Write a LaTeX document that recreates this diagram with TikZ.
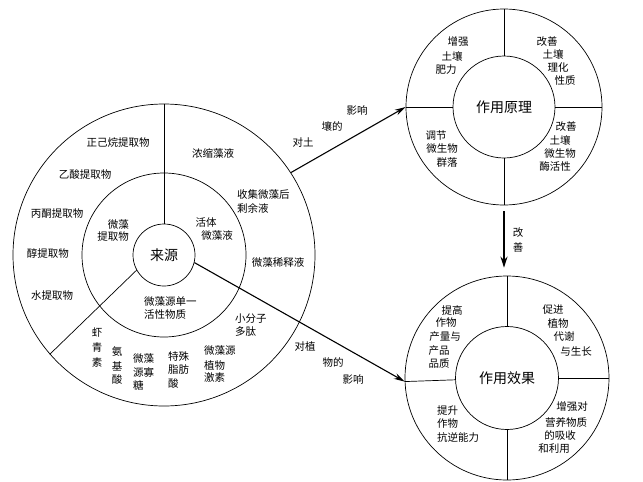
\documentclass[tikz,border=0pt]{standalone}
\usepackage{fontspec}
\newfontfamily\cjk{Noto Sans CJK SC}
\usetikzlibrary{arrows.meta,calc}
\begin{document}
\begin{tikzpicture}[x=1pt,y=-1pt,
  ring/.style={circle,draw,line width=0.7pt,inner sep=0pt},
  lbl/.style={font=\cjk\fontsize{10.5}{12}\selectfont,inner sep=0pt},
  big/.style={font=\cjk\fontsize{14}{16}\selectfont,inner sep=0pt},
  divider/.style={line width=0.7pt},
  flow/.style={line width=1.1pt,-{Stealth[length=11pt,width=6pt]}},
  bigflow/.style={line width=1.8pt,-{Stealth[length=11pt,width=7pt]}}]
\fill[white] (0,0) rectangle (643,482);
\useasboundingbox (0,0) rectangle (643,482);

% ---- left circle: sources
\node[ring,minimum size=302pt] (srcO) at (164,255) {};
\node[ring,minimum size=164pt] (srcM) at (164,255) {};
\node[ring,minimum size=62pt,big] (src) at (164,255) {来源};
\draw[divider] (srcO.90) -- (src.90);
\draw[divider] (src.209) -- (srcO.221.5);

% ---- top right: principle
\node[ring,minimum size=196pt] (prO) at (504,107) {};
\node[ring,minimum size=102pt,big] (pr) at (504,107) {作用原理};
\draw[divider] (pr.north) -- (prO.north);
\draw[divider] (pr.south) -- (prO.south);
\draw[divider] (pr.west) -- (prO.west);
\draw[divider] (pr.east) -- (prO.east);

% ---- bottom right: effect
\node[ring,minimum size=204pt] (effO) at (507,378) {};
\node[ring,minimum size=103pt,big] (eff) at (507,378) {作用效果};
\draw[divider] (eff.north) -- (effO.north);
\draw[divider] (eff.south) -- (effO.south);
\draw[divider] (eff.182) -- (effO.182);
\draw[divider] (eff.east) -- (effO.east);

% ---- connectors
\draw[flow] (srcO.33.7) -- (prO.180);
\draw[flow] (src.-14.5) -- (effO.182);
\draw[bigflow,shorten <=6pt,shorten >=8pt] (prO.south) -- (prO.south |- effO.north);

% ---- arrow labels
\node[lbl] (u1) at (303,143) {对土};
\node[lbl] (u2) at (332,126) {壤的};
\node[lbl] (u3) at (357,110) {影响};
\node[lbl] (l1) at (305,346) {对植};
\node[lbl] (l2) at (333,362) {物的};
\node[lbl] (l3) at (353,379) {影响};
\node[lbl] (g1) at (518,233) {改};
\node[lbl] (g2) at (518,247) {善};

% ---- outer ring, left part
\node[lbl] (a1) at (118,143) {正己烷提取物};
\node[lbl] (a2) at (85,175) {乙酸提取物};
\node[lbl] (a3) at (57,214) {丙酮提取物};
\node[lbl] (a4) at (48,253) {醇提取物};
\node[lbl] (a5) at (52,296) {水提取物};
% outer ring, right part
\node[lbl] (b1) at (213,153) {浓缩藻液};
\node[lbl,anchor=west] (b2) at (237,195) {收集微藻后};
\node[lbl,anchor=west] (b3) at (237,208) {剩余液};
\node[lbl] (b4) at (278,263) {微藻稀释液};
\node[lbl,anchor=west] (b5) at (235,319) {小分子};
\node[lbl,anchor=west] (b6) at (235,332) {多肽};
% outer ring, bottom part
\node[lbl] (c1) at (97,333) {虾};
\node[lbl] (c2) at (97,348) {青};
\node[lbl] (c3) at (97,362) {素};
\node[lbl] (d1) at (117,352) {氨};
\node[lbl] (d2) at (117,366) {基};
\node[lbl] (d3) at (117,380) {酸};
\node[lbl,anchor=west] (e1) at (133,359) {微藻};
\node[lbl,anchor=west] (e2) at (133,372) {源寡};
\node[lbl,anchor=west] (e3) at (133,385) {糖};
\node[lbl,anchor=west] (f1) at (168,357) {特殊};
\node[lbl,anchor=west] (f2) at (168,370) {脂肪};
\node[lbl,anchor=west] (f3) at (168,384) {酸};
\node[lbl,anchor=west] (h1) at (204,351) {微藻源};
\node[lbl,anchor=west] (h2) at (204,365) {植物};
\node[lbl,anchor=west] (h3) at (204,378) {激素};
% middle ring
\node[lbl,anchor=east] (m1) at (129,225) {微藻};
\node[lbl,anchor=east] (m2) at (129,237) {提取物};
\node[lbl] (m3) at (206,223) {活体};
\node[lbl] (m4) at (217,236) {微藻液};
\node[lbl,anchor=west] (m5) at (144,302) {微藻源单一};
\node[lbl,anchor=west] (m6) at (144,315) {活性物质};

% ---- principle circle texts
\node[lbl] (p1) at (458,42) {增强};
\node[lbl] (p2) at (452,56) {土壤};
\node[lbl] (p3) at (446,70) {肥力};
\node[lbl] (q1) at (547,42) {改善};
\node[lbl] (q2) at (553,54) {土壤};
\node[lbl] (q3) at (558,68) {理化};
\node[lbl] (q4) at (565,81) {性质};
\node[lbl] (r1) at (566,127) {改善};
\node[lbl] (r2) at (560,140) {土壤};
\node[lbl] (r3) at (560,154) {微生物};
\node[lbl] (r4) at (555,167) {酶活性};
\node[lbl] (s1) at (436,136) {调节};
\node[lbl] (s2) at (442,149) {微生物};
\node[lbl] (s3) at (447,163) {群落};

% ---- effect circle texts
\node[lbl] (v1) at (452,310) {提高};
\node[lbl] (v2) at (446,323) {作物};
\node[lbl] (v3) at (445,337) {产量与};
\node[lbl] (v4) at (439,351) {产品};
\node[lbl] (v5) at (439,364) {品质};
\node[lbl] (w1) at (553,310) {促进};
\node[lbl] (w2) at (558,323) {植物};
\node[lbl] (w3) at (564,337) {代谢};
\node[lbl] (w4) at (576,351) {与生长};
\node[lbl,anchor=west] (x1) at (437,411) {提升};
\node[lbl,anchor=west] (x2) at (437,424) {作物};
\node[lbl,anchor=west] (x3) at (437,437) {抗逆能力};
\node[lbl] (y1) at (572,407) {增强对};
\node[lbl] (y2) at (566,422) {营养物质};
\node[lbl] (y3) at (560,435) {的吸收};
\node[lbl] (y4) at (554,449) {和利用};
\end{tikzpicture}
\end{document}
